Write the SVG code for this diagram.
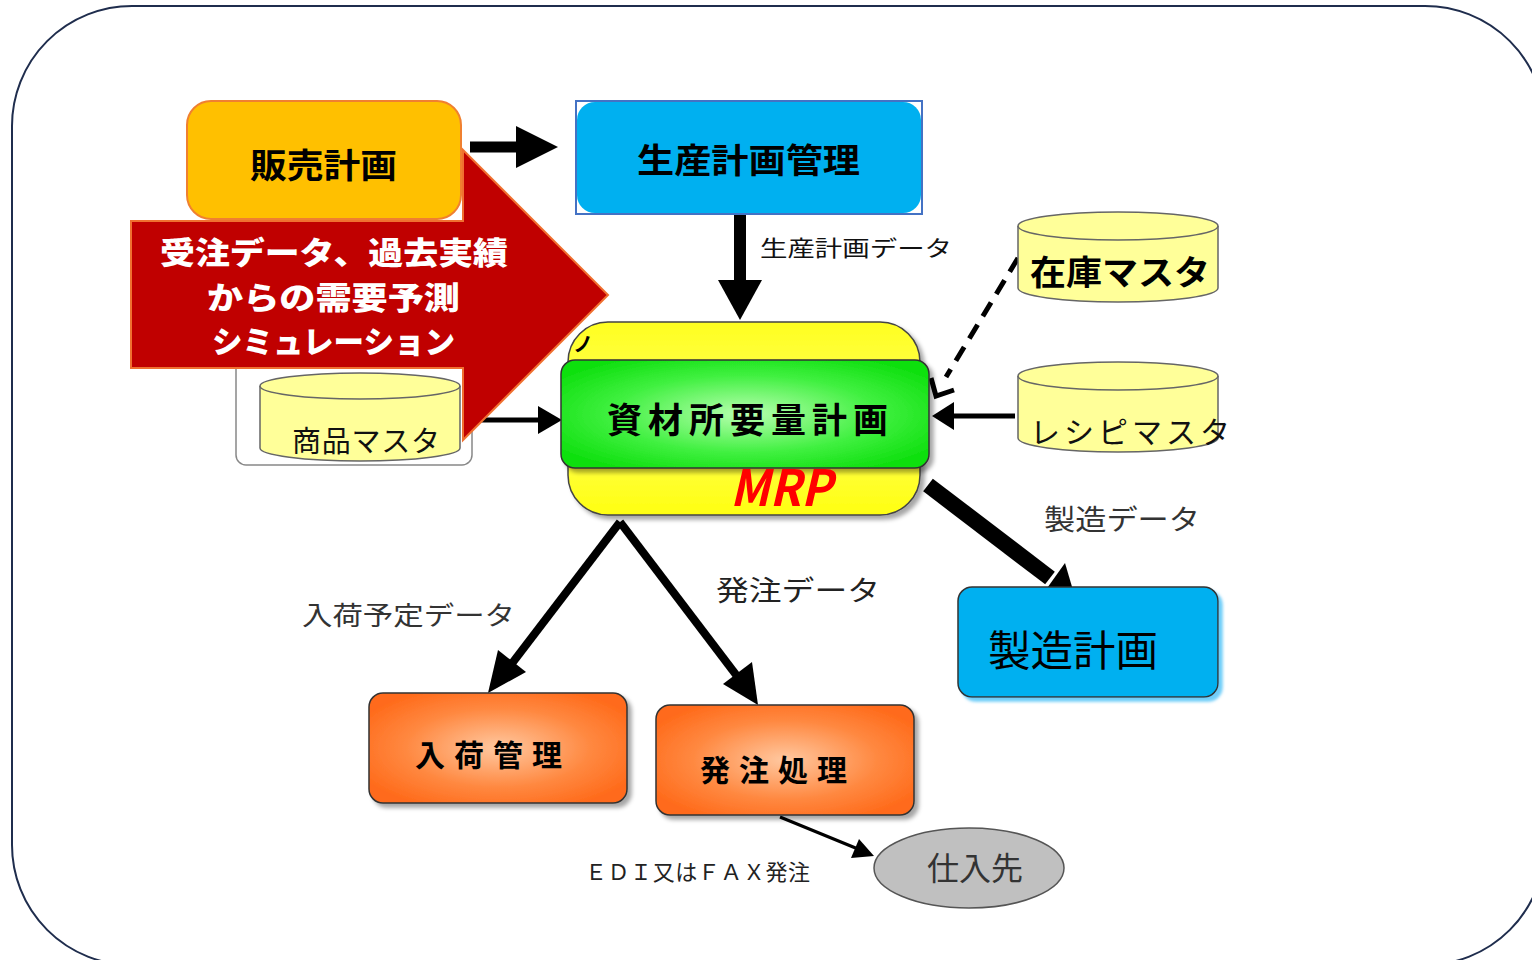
<svg xmlns="http://www.w3.org/2000/svg" width="1532" height="960" viewBox="0 0 1532 960">
<defs>
<style>
text{font-family:"Noto Sans CJK JP","Noto Sans",sans-serif;}
.b{font-weight:700;}
.cyl{fill:#FFFF99;stroke:#666;stroke-width:1.5;}
.box{stroke:#333;stroke-width:1.5;}
.cw{font-size:31px;fill:#fff;font-weight:900;}
</style>
<radialGradient id="gGreen" cx="0.5" cy="0.5" r="0.6"><stop offset="0" stop-color="#B8FFB0"/><stop offset="0.6" stop-color="#40F040"/><stop offset="1" stop-color="#10E010"/></radialGradient>
<radialGradient id="gOrange" cx="0.5" cy="0.5" r="0.6"><stop offset="0" stop-color="#FFC8A0"/><stop offset="0.6" stop-color="#FF8840"/><stop offset="1" stop-color="#FF6A1A"/></radialGradient>
<linearGradient id="gYellow" x1="0" y1="0" x2="0" y2="1"><stop offset="0" stop-color="#FFFF20"/><stop offset="0.5" stop-color="#FFFF60"/><stop offset="1" stop-color="#FFFF10"/></linearGradient>
<filter id="sh" x="-10%" y="-10%" width="125%" height="130%"><feDropShadow dx="4" dy="4" stdDeviation="2" flood-color="#000" flood-opacity="0.35"/></filter>
<filter id="shb" x="-10%" y="-10%" width="125%" height="130%"><feDropShadow dx="4" dy="4" stdDeviation="1.5" flood-color="#60C8F8" flood-opacity="0.9"/></filter>
</defs>
<rect x="12" y="6" width="1533" height="959" rx="120" ry="120" fill="#fff" stroke="#1F2D4D" stroke-width="2"/>

<g id="shohin-group">
<rect x="236" y="330" width="236" height="135" rx="10" fill="#fff" stroke="#888" stroke-width="1.5"/>
</g>

<g id="connectors">
<line x1="470" y1="147" x2="520" y2="147" stroke="#000" stroke-width="11"/>
<polygon points="516,126 558,147 516,168" fill="#000"/>
<line x1="740" y1="214" x2="740" y2="284" stroke="#000" stroke-width="12"/>
<polygon points="718,280 762,280 740,320" fill="#000"/>
<line x1="1018" y1="258" x2="946" y2="377" stroke="#000" stroke-width="5" stroke-dasharray="16,10"/>
<polyline points="931,378 936,396 954,390" fill="none" stroke="#000" stroke-width="5"/>
<line x1="1015" y1="416" x2="950" y2="416" stroke="#000" stroke-width="5"/>
<polygon points="954,402 932,416 954,430" fill="#000"/>
<line x1="472" y1="420" x2="540" y2="420" stroke="#000" stroke-width="5"/>
<polygon points="538,406 562,420 538,434" fill="#000"/>
<line x1="620" y1="522" x2="510" y2="666" stroke="#000" stroke-width="8"/>
<polygon points="488,693 498,650 526,672" fill="#000"/>
<line x1="620" y1="522" x2="740" y2="680" stroke="#000" stroke-width="8"/>
<polygon points="758,705 723,684 752,662" fill="#000"/>
<line x1="928" y1="485" x2="1050" y2="578" stroke="#000" stroke-width="16"/>
<polygon points="1075,597 1040,598 1065,563" fill="#000"/>
<line x1="780" y1="817" x2="858" y2="849" stroke="#000" stroke-width="3"/>
<polygon points="874,856 851,858 859,839" fill="#000"/>
</g>

<g id="hanbai">
<rect x="187" y="101" width="274" height="118" rx="24" fill="#FFC000" stroke="#F08030" stroke-width="2"/>
<text x="250" y="178" font-size="34" class="b" textLength="147" lengthAdjust="spacingAndGlyphs">販売計画</text>
</g>

<g id="seisan">
<rect x="576" y="101" width="346" height="113" fill="#fff" stroke="#4472C4" stroke-width="2"/>
<rect x="577" y="102" width="344" height="111" rx="18" fill="#00B0F0"/>
<text x="637" y="173" font-size="34" class="b" textLength="223" lengthAdjust="spacingAndGlyphs">生産計画管理</text>
</g>
<text x="760" y="256" font-size="22" fill="#111" textLength="192" lengthAdjust="spacingAndGlyphs">生産計画データ</text>

<g id="zaiko">
<path d="M1018,226 L1018,288 A100,14 0 0 0 1218,288 L1218,226" class="cyl"/>
<ellipse cx="1118" cy="226" rx="100" ry="14" class="cyl"/>
<text x="1030" y="285" font-size="34" font-weight="600" textLength="180" lengthAdjust="spacingAndGlyphs">在庫マスタ</text>
</g>

<g id="recipe">
<path d="M1018,376 L1018,438 A100,14 0 0 0 1218,438 L1218,376" class="cyl"/>
<ellipse cx="1118" cy="376" rx="100" ry="14" class="cyl"/>
<text x="1030" y="443" font-size="30" fill="#111" textLength="200" lengthAdjust="spacing">レシピマスタ</text>
</g>

<g id="shohin">
<path d="M260,386 L260,448 A100,13 0 0 0 460,448 L460,386" class="cyl"/>
<ellipse cx="360" cy="386" rx="100" ry="13" class="cyl"/>
<text x="292" y="452" font-size="29" fill="#111" textLength="148" lengthAdjust="spacing">商品マスタ</text>
</g>

<g id="mrp">
<rect x="568" y="322" width="352" height="193" rx="40" fill="url(#gYellow)" stroke="#444" stroke-width="1.5" filter="url(#sh)"/>
<text x="573" y="352" font-size="20" font-weight="700" fill="#000">ノ</text>
<rect x="561" y="360" width="368" height="108" rx="14" fill="url(#gGreen)" class="box" filter="url(#sh)"/>
<text x="607" y="433" font-size="35" class="b" textLength="281" lengthAdjust="spacing">資材所要量計画</text>
<text x="730" y="506" font-size="50" font-family="Liberation Sans" font-weight="700" font-style="italic" fill="#FF0000" textLength="102" lengthAdjust="spacingAndGlyphs">MRP</text>
</g>

<g id="callout">
<polygon points="131,221 463,221 463,150 608,295 463,440 463,368 131,368" fill="#C00000" stroke="#F07030" stroke-width="2"/>
<text x="160" y="264" class="cw" textLength="348" lengthAdjust="spacingAndGlyphs">受注データ、過去実績</text>
<text x="207" y="309" class="cw" textLength="253" lengthAdjust="spacingAndGlyphs">からの需要予測</text>
<text x="212" y="353" class="cw" textLength="243" lengthAdjust="spacingAndGlyphs">シミュレーション</text>
</g>

<text x="302" y="625" font-size="26" fill="#333" textLength="213" lengthAdjust="spacingAndGlyphs">入荷予定データ</text>
<text x="716" y="601" font-size="28" fill="#222" textLength="164" lengthAdjust="spacingAndGlyphs">発注データ</text>
<text x="1044" y="530" font-size="28" fill="#333" textLength="156" lengthAdjust="spacingAndGlyphs">製造データ</text>

<g id="nyuka">
<rect x="369" y="693" width="258" height="110" rx="14" fill="url(#gOrange)" class="box" filter="url(#sh)"/>
<text x="415" y="766" font-size="30" font-weight="600" textLength="147" lengthAdjust="spacing">入荷管理</text>
</g>

<g id="hatchu">
<rect x="656" y="705" width="258" height="110" rx="14" fill="url(#gOrange)" class="box" filter="url(#sh)"/>
<text x="700" y="781" font-size="30" font-weight="600" textLength="147" lengthAdjust="spacing">発注処理</text>
</g>

<g id="seizo">
<rect x="958" y="587" width="260" height="110" rx="14" fill="#00B0F0" class="box" filter="url(#shb)"/>
<text x="988" y="666" font-size="42" fill="#000" textLength="170" lengthAdjust="spacingAndGlyphs">製造計画</text>
</g>

<g id="shiire">
<ellipse cx="969" cy="868" rx="95" ry="40" fill="#C0C0C0" stroke="#555" stroke-width="1.5"/>
<text x="975" y="880" font-size="32" text-anchor="middle" fill="#333">仕入先</text>
</g>
<text x="585" y="880" font-size="22" fill="#222" textLength="225" lengthAdjust="spacing">ＥＤＩ又はＦＡＸ発注</text>
</svg>
